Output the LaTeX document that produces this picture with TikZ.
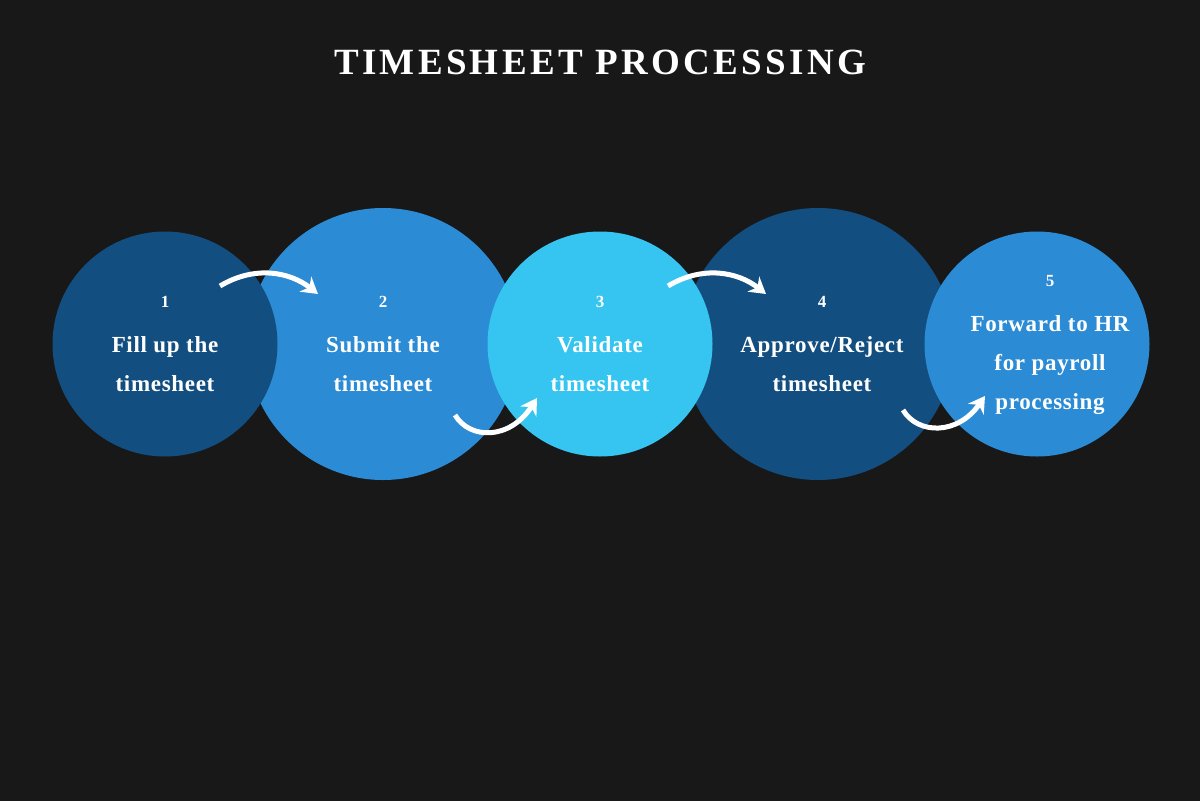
\documentclass[tikz,border=0pt]{standalone}
\usepackage{fontspec}
\setmainfont{Liberation Serif}
\usetikzlibrary{arrows.meta}
\definecolor{bg}{HTML}{181818}
\definecolor{dblue}{HTML}{134E80}
\definecolor{mblue}{HTML}{2B8BD4}
\definecolor{lblue}{HTML}{36C5F0}
\begin{document}
\begin{tikzpicture}[x=1pt,y=1pt,
 circ/.style={circle,minimum size=#1,inner sep=0pt},
 lbl/.style={text=white,font=\bfseries\fontsize{23}{39}\selectfont\addfontfeature{LetterSpace=3},align=center},
 arr/.style={white,line width=5pt,-{Stealth[length=16pt,width=19pt]}}]
\fill[bg] (0,0) rectangle (1200,-801);
\useasboundingbox (0,0) rectangle (1200,-801);
\node[text=white,font=\bfseries\fontsize{37}{40}\selectfont\addfontfeature{LetterSpace=9}] (title) at (600,-62) {TIMESHEET PROCESSING};
\node[circ=272pt,fill=mblue] (c2) at (383,-344) {};
\node[circ=272pt,fill=dblue] (c4) at (818,-344) {};
\node[circ=225pt,fill=dblue] (c1) at (165,-344) {};
\node[circ=225pt,fill=lblue] (c3) at (600,-344) {};
\node[circ=225pt,fill=mblue] (c5) at (1037,-344) {};
\node[lbl] (t1) at (165,-344) {\fontsize{17}{20}\selectfont 1\\[6pt]Fill up the\\timesheet};
\node[lbl] (t2) at (383,-344) {\fontsize{17}{20}\selectfont 2\\[6pt]Submit the\\timesheet};
\node[lbl] (t3) at (600,-344) {\fontsize{17}{20}\selectfont 3\\[6pt]Validate\\timesheet};
\node[lbl] (t4) at (822,-344) {\fontsize{17}{20}\selectfont 4\\[6pt]Approve/Reject\\timesheet};
\node[lbl,anchor=north] (t5) at (1050,-272) {\fontsize{17}{20}\selectfont 5\\[6pt]Forward to HR\\for payroll\\processing};
\coordinate (a1s) at (220,-286); \coordinate (a1e) at (318,-294);
\coordinate (a2s) at (455,-415); \coordinate (a2e) at (537,-398);
\coordinate (a3s) at (668,-286); \coordinate (a3e) at (766,-294);
\coordinate (a4s) at (903,-410); \coordinate (a4e) at (985,-396);
\draw[arr] (a1s) .. controls (255,-265) and (290,-272) .. (a1e);
\draw[arr] (a2s) .. controls (470,-440) and (510,-440) .. (a2e);
\draw[arr] (a3s) .. controls (703,-265) and (738,-272) .. (a3e);
\draw[arr] (a4s) .. controls (918,-435) and (958,-435) .. (a4e);
\end{tikzpicture}
\end{document}
